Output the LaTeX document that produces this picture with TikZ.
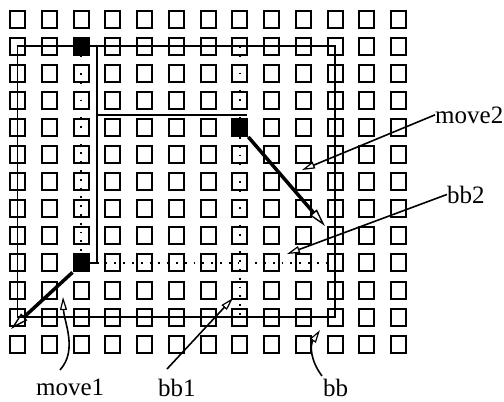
\documentclass[tikz,border=0pt]{standalone}
\usepackage{fontspec}
\setmainfont{Liberation Serif}
\usetikzlibrary{arrows.meta,calc}
\begin{document}
\begin{tikzpicture}[x=1pt,y=-1pt,
  cell/.style={draw, line width=2pt, minimum width=15pt, minimum height=17pt, inner sep=0pt},
  hit/.style={cell, fill=black},
  frame/.style={line width=1.8pt},
  trace/.style={line width=1.8pt, dash pattern=on 1.8pt off 7pt},
  motion/.style={line width=3.5pt, -{Triangle[open, length=18pt, width=9pt, line width=1.4pt]}},
  pointer/.style={line width=1.6pt, -{Triangle[open, length=13pt, width=7pt, line width=1.2pt]}},
  lbl/.style={font=\fontsize{25}{28}\selectfont, inner sep=0pt, anchor=base west}
]
\useasboundingbox (0,0) rectangle (504,402);

% grid of pixels
\foreach \i in {0,...,12}
  \foreach \j in {0,...,12}
    \node[cell] (s-\i-\j) at ({17.5+31.75*\i},{19+27.1*\j}) {};

% marked pixels
\node[hit] (m0) at (s-2-1) {};
\node[hit] (m1) at (s-7-4) {};
\node[hit] (m2) at (s-2-9) {};

% bounding box bb
\draw[frame] (s-0-1.center) rectangle (s-10-11.center);

% box edges bb2
\coordinate (vtop) at ($(s-2-1.center)!.5!(s-3-1.center)$);
\coordinate (vbot) at ($(s-2-9.center)!.5!(s-3-9.center)$);
\coordinate (hleft) at (98.4,115);
\coordinate (hright) at (247.3,115);
\draw[frame] (vtop) -- (vbot);
\draw[frame] (hleft) -- (hright);
\draw[frame] (m2.east) -- (vbot);

% dotted traces
\draw[trace] (vbot) -- (s-10-9.center);
\draw[trace] (m0.south) -- (m2.north);
\draw[trace] (s-7-1.center) -- (m1.north);
\draw[trace] (m1.south) -- (s-7-11.center);

% motion vectors
\coordinate (mv1) at (11,329);
\coordinate (mv2) at (325,226);
\draw[motion] (m2.south west) -- (mv1);
\draw[motion] (m1.south east) -- (mv2);

% labels
\node[lbl] (tmove2) at (435,123) {move2};
\node[lbl] (tbb2) at (447,203) {bb2};
\node[lbl] (tmove1) at (36,395) {move1};
\node[lbl] (tbb1) at (158,396) {bb1};
\node[lbl] (tbb) at (323,396) {bb};

% leaders
\coordinate (pmove2) at (302,170);
\coordinate (pbb2) at (287,254);
\coordinate (pbb1) at (233,298);
\coordinate (pmove1) at (63,297);
\coordinate (pbb) at (320,330);
\coordinate (smove1) at (60,370);
\coordinate (sbb1) at (167,369);
\coordinate (sbb) at (322,376);
\draw[pointer] (tmove2.west) -- (pmove2);
\draw[pointer] (tbb2.west) -- (pbb2);
\draw[pointer] (sbb1) -- (pbb1);
\draw[pointer] (smove1) .. controls (78,350) and (64,322) .. (pmove1);
\draw[pointer] (sbb) .. controls (310,360) and (310,345) .. (pbb);
\end{tikzpicture}
\end{document}
